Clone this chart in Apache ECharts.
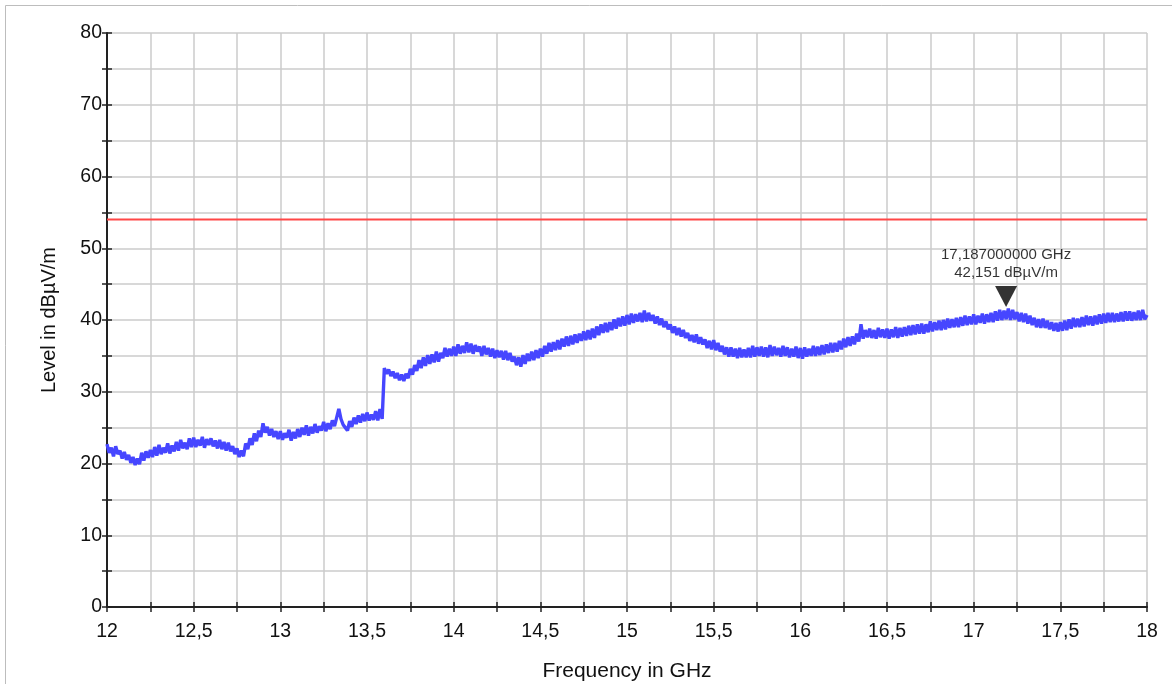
<!DOCTYPE html>
<html>
<head>
<meta charset="utf-8">
<title>Level vs Frequency</title>
<script src="https://cdn.jsdelivr.net/npm/echarts@6/dist/echarts.min.js"></script>
<style>
  html, body { margin: 0; padding: 0; background: #fff; }
  #chart { width: 1172px; height: 684px; }
</style>
</head>
<body>
<div id="chart"></div>
<script>
// sweep: 12 GHz .. 18 GHz, one reading every 12.5 MHz (8 per row = 100 MHz)
var freqStart = 12;
var freqStep = 0.0125;
var levels = [
    22.7, 21.5, 22.2, 21.0, 22.4, 21.3, 21.8, 20.7,   // 12.0
    21.6, 20.5, 21.2, 20.1, 20.9, 19.8, 20.7, 19.9,
    21.5, 20.4, 21.7, 20.8, 21.9, 20.9, 22.3, 21.1,
    22.6, 21.3, 22.2, 21.5, 22.8, 21.4, 22.5, 21.7,
    23.0, 21.8, 23.3, 22.1, 22.9, 22.0, 23.5, 22.3,
    23.6, 22.3, 23.3, 22.5, 23.7, 22.2, 23.4, 22.6,   // 12.5
    23.5, 22.4, 23.2, 22.1, 23.3, 22.0, 23.0, 21.8,
    22.9, 21.7, 22.4, 21.3, 22.1, 20.9, 21.8, 21.0,
    22.8, 22.0, 23.5, 22.6, 24.2, 23.1, 24.6, 23.7,
    25.6, 24.3, 25.1, 23.9, 24.8, 23.7, 24.5, 23.4,
    24.5, 23.3, 24.2, 23.6, 24.7, 23.2, 24.4, 23.5,   // 13.0
    24.8, 23.7, 25.0, 24.0, 25.3, 23.9, 25.1, 24.2,
    25.5, 24.3, 25.2, 24.6, 25.8, 24.5, 25.6, 24.8,
    26.0, 25.2, 26.4, 27.6, 26.2, 25.4, 25.0, 24.6,
    25.9, 25.1, 26.4, 25.5, 26.7, 25.7, 26.9, 25.9,
    27.1, 26.0, 26.8, 26.1, 27.3, 26.0, 27.6, 26.2,   // 13.5
    33.3, 32.5, 33.1, 32.2, 32.8, 31.9, 32.6, 31.6,
    32.4, 31.5, 32.5, 31.9, 33.2, 32.4, 33.7, 32.9,
    34.4, 33.3, 34.8, 33.6, 35.1, 33.9, 35.2, 34.1,
    35.6, 34.2, 35.4, 34.7, 36.1, 34.9, 36.0, 35.0,
    36.3, 35.0, 36.6, 35.3, 36.4, 35.4, 36.9, 35.5,   // 14.0
    36.7, 35.3, 36.5, 35.6, 36.3, 35.0, 36.4, 35.2,
    36.1, 34.9, 36.0, 34.7, 35.8, 34.8, 35.7, 34.5,
    35.7, 34.4, 35.4, 34.2, 34.9, 33.7, 34.8, 33.5,
    35.1, 33.9, 35.3, 34.3, 35.6, 34.4, 35.8, 34.7,
    36.0, 34.9, 36.4, 35.3, 36.8, 35.6, 36.9, 35.8,   // 14.5
    37.2, 35.9, 37.4, 36.3, 37.7, 36.4, 37.8, 36.6,
    38.0, 36.8, 38.1, 37.1, 38.4, 37.2, 38.6, 37.3,
    38.8, 37.5, 39.1, 37.9, 39.4, 38.2, 39.6, 38.3,
    39.7, 38.6, 40.1, 38.8, 40.3, 39.1, 40.5, 39.2,
    40.7, 39.4, 40.9, 39.6, 40.8, 39.8, 41.0, 39.7,   // 15.0
    41.3, 39.8, 41.0, 39.9, 40.7, 39.5, 40.5, 39.3,
    40.2, 39.0, 39.8, 38.7, 39.4, 38.2, 39.1, 37.9,
    38.9, 37.7, 38.6, 37.5, 38.2, 37.1, 37.9, 36.9,
    38.0, 36.7, 37.6, 36.6, 37.3, 36.1, 37.1, 35.9,
    37.2, 35.8, 36.8, 35.6, 36.4, 35.2, 36.2, 34.9,   // 15.5
    36.2, 34.9, 36.0, 34.7, 36.1, 34.8, 35.9, 34.8,
    36.1, 34.8, 36.4, 34.9, 36.2, 35.0, 36.3, 34.9,
    36.2, 34.8, 36.5, 35.0, 36.3, 35.1, 36.1, 34.9,
    36.4, 35.0, 36.2, 34.8, 36.0, 34.9, 36.3, 34.7,
    36.1, 34.6, 36.2, 34.9, 36.0, 35.0, 36.4, 35.0,   // 16.0
    36.3, 35.1, 36.5, 35.2, 36.6, 35.4, 36.8, 35.5,
    36.8, 35.6, 37.1, 35.9, 37.4, 36.2, 37.6, 36.4,
    37.7, 36.6, 38.1, 37.0, 39.4, 37.4, 38.6, 37.6,
    38.8, 37.5, 38.6, 37.4, 38.9, 37.6, 38.7, 37.5,
    38.8, 37.4, 38.7, 37.6, 39.0, 37.5, 38.9, 37.7,   // 16.5
    39.0, 37.8, 39.2, 37.9, 39.3, 38.0, 39.4, 38.1,
    39.5, 38.1, 39.4, 38.3, 39.8, 38.4, 39.7, 38.6,
    39.9, 38.6, 40.0, 38.7, 40.2, 38.9, 40.1, 39.0,
    40.3, 39.0, 40.4, 39.2, 40.6, 39.3, 40.5, 39.4,
    40.8, 39.4, 40.6, 39.6, 40.9, 39.5, 40.8, 39.7,   // 17.0
    41.0, 39.7, 41.2, 39.9, 41.4, 40.0, 41.3, 40.1,
    41.6, 40.0, 41.4, 40.1, 41.1, 39.8, 41.0, 39.7,
    40.9, 39.5, 40.6, 39.3, 40.3, 39.0, 40.1, 38.9,
    40.2, 38.9, 39.9, 38.7, 39.7, 38.5, 39.6, 38.4,
    39.7, 38.5, 39.9, 38.6, 40.1, 38.8, 40.3, 39.0,   // 17.5
    40.2, 39.0, 40.4, 39.1, 40.6, 39.3, 40.5, 39.2,
    40.6, 39.4, 40.8, 39.5, 40.9, 39.6, 41.0, 39.7,
    41.0, 39.7, 40.9, 39.8, 41.1, 39.8, 41.2, 39.9,
    41.2, 39.9, 41.1, 40.0, 41.3, 40.0, 41.4, 40.1,
    40.7                                              // 18.0
];
var limitLine = [[12, 54], [18, 54]];
var marker = [17.187, 42.151];

var traceData = levels.map(function (v, i) {
    return [freqStart + i * freqStep, v];
});

var FONT = 'Liberation Sans, Arial, sans-serif';

function commaNum(v) {
    return String(+v.toFixed(3)).replace('.', ',');
}

var chart = echarts.init(document.getElementById('chart'));

chart.setOption({
    animation: false,
    backgroundColor: '#fff',
    graphic: [{
        type: 'rect',
        shape: { x: 5.5, y: 5.5, width: 1400, height: 900 },
        style: { fill: 'none', stroke: '#bdbdbd', lineWidth: 1 },
        silent: true
    }],
    grid: { left: 107, right: 25, top: 33, bottom: 77, containLabel: false, outerBoundsMode: 'none' },
    xAxis: [{
        type: 'value',
        min: 12, max: 18, interval: 0.25,
        name: 'Frequency in GHz',
        nameLocation: 'middle',
        nameGap: 54,
        nameTextStyle: { fontFamily: FONT, fontSize: 21, color: '#111' },
        axisLine: { show: true, onZero: false, lineStyle: { color: '#222', width: 2 } },
        axisTick: { show: true, length: 5, lineStyle: { color: '#222', width: 1.5 } },
        axisLabel: {
            margin: 15, fontFamily: FONT, fontSize: 19.5, color: '#111',
            formatter: function (v) {
                return Math.abs(v * 2 - Math.round(v * 2)) < 1e-6 ? commaNum(v) : '';
            }
        },
        splitLine: { show: true, lineStyle: { color: '#cbcbcb', width: 1.5 } }
    }, {
        // same scale, only for the inner half of the ticks
        type: 'value', position: 'bottom',
        min: 12, max: 18, interval: 0.25,
        axisLine: { show: false },
        axisTick: { show: true, inside: true, length: 5, lineStyle: { color: '#222', width: 1.5 } },
        axisLabel: { show: false },
        splitLine: { show: false }
    }],
    yAxis: [{
        type: 'value',
        min: 0, max: 80, interval: 5,
        name: 'Level in dBµV/m',
        nameLocation: 'middle',
        nameGap: 48,
        nameTextStyle: { fontFamily: FONT, fontSize: 20, color: '#111' },
        axisLine: { show: true, onZero: false, lineStyle: { color: '#222', width: 2 } },
        axisTick: { show: true, length: 5, lineStyle: { color: '#222', width: 1.5 } },
        axisLabel: {
            margin: 5, fontFamily: FONT, fontSize: 19.5, color: '#111',
            formatter: function (v) { return v % 10 === 0 ? String(v) : ''; }
        },
        splitLine: { show: true, lineStyle: { color: '#cbcbcb', width: 1.5 } }
    }, {
        type: 'value', position: 'left',
        min: 0, max: 80, interval: 5,
        axisLine: { show: false },
        axisTick: { show: true, inside: true, length: 5, lineStyle: { color: '#222', width: 1.5 } },
        axisLabel: { show: false },
        splitLine: { show: false }
    }],
    series: [{
        name: 'Limit',
        type: 'line',
        data: limitLine,
        symbol: 'none',
        lineStyle: { color: '#ff4646', width: 2 },
        z: 3
    }, {
        name: 'Level',
        type: 'line',
        data: traceData,
        symbol: 'none',
        lineStyle: { color: '#4646ff', width: 3.4 },
        z: 4
    }, {
        name: 'Marker',
        type: 'scatter',
        data: [marker],
        symbol: 'path://M0,0L22,0L11,21Z',
        symbolSize: [22, 21],
        symbolOffset: [0, -8],
        itemStyle: { color: '#000' },
        label: {
            show: true,
            position: 'top',
            distance: 4,
            fontFamily: FONT,
            fontSize: 15,
            lineHeight: 18,
            color: '#000',
            formatter: function (p) {
                return commaNum(p.value[0]) + '000000 GHz\n' + commaNum(p.value[1]) + ' dBµV/m';
            }
        },
        z: 5
    }]
});
</script>
</body>
</html>
